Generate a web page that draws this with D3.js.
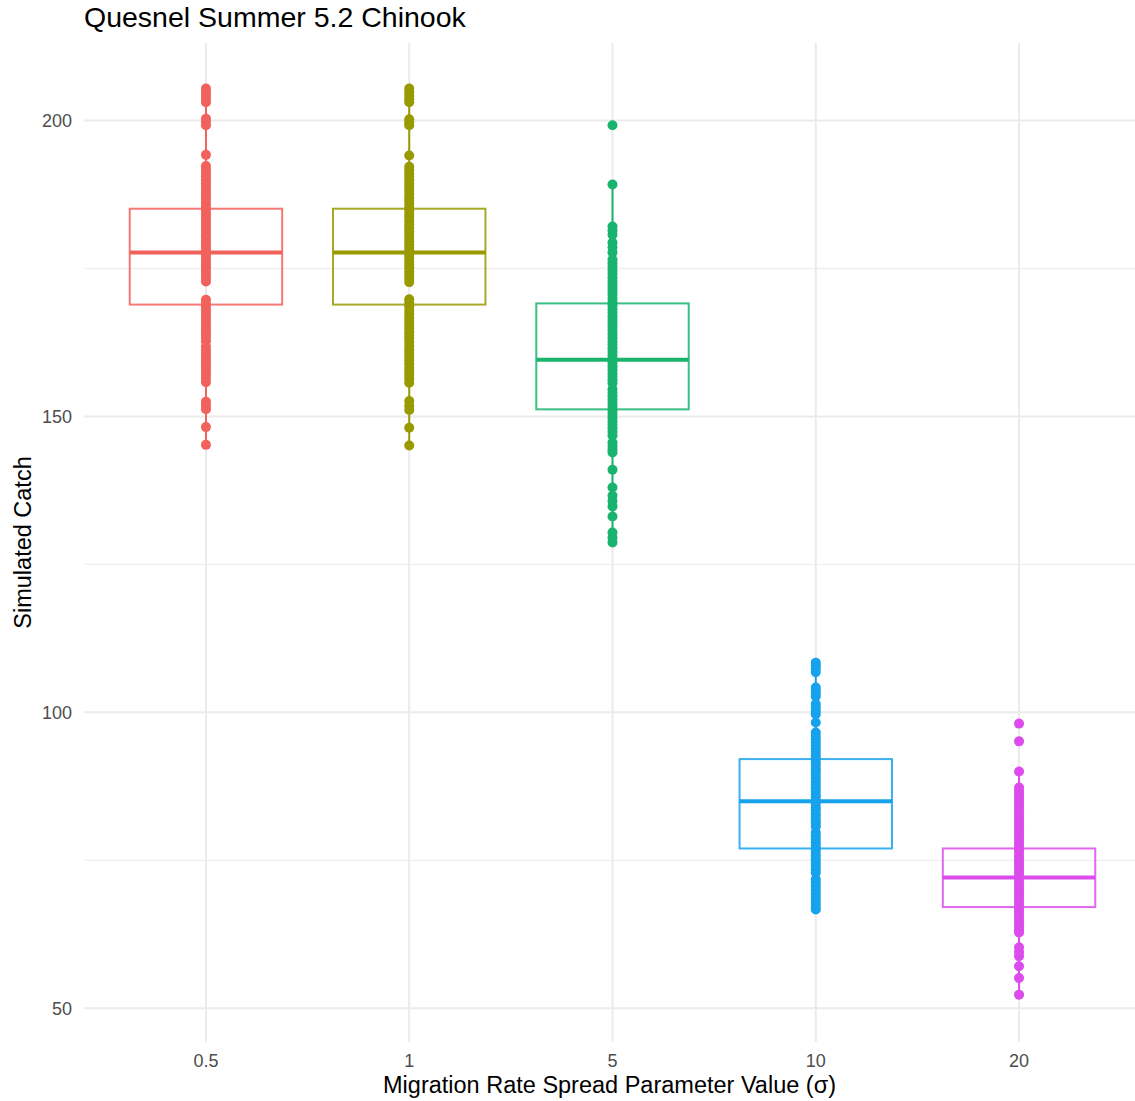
<!DOCTYPE html>
<html lang="en">
  <head>
    <meta charset="UTF-8" />
    <title>Quesnel Summer 5.2 Chinook</title>
    <style>
      body { margin: 0; background: #fff; }
      text { font-family: 'Liberation Sans', Arial, sans-serif; }
    </style>
    <script src="https://d3js.org/d3.v7.min.js"></script>
  </head>
  <body>
    <div class="d3Chart"></div>
    <script>
      // categories (sigma values)
      const categories = ['0.5', '1', '5', '10', '20']
      const colors = ['#F2625C', '#989A00', '#18B46E', '#17A2EE', '#DC4CEC']

      // simulated catch per run
      const catch05 = [205.4, 204.9, 204.3, 203.7, 203.1, 200.3, 199.8, 199.2, 194.2,
        192.3, 191.7, 191.1, 190.6, 190.0, 189.4, 188.8, 188.3, 187.7, 187.1, 186.6, 186.0,
        185.4, 184.8, 184.2, 183.7, 183.1, 182.5, 182.0, 181.4, 180.8, 180.3, 179.7, 179.1,
        178.6, 178.0, 177.4, 176.9, 176.3, 175.7, 175.2, 174.6, 174.0, 173.4, 172.8,
        169.7, 169.1, 168.5, 167.9, 167.4, 166.8, 166.2, 165.6, 165.0, 164.4, 163.9, 163.3, 162.7,
        161.8, 161.2, 160.6, 160.0, 159.4, 158.8, 158.3, 157.7, 157.1, 156.5, 155.8,
        152.5, 151.9, 151.2, 148.2, 145.2]
      const catch1 = [205.4, 204.8, 204.2, 203.6, 203.1, 200.2, 199.7, 199.2, 194.1,
        192.2, 191.6, 191.0, 190.5, 189.9, 189.3, 188.8, 188.2, 187.6, 187.0, 186.5, 185.9,
        185.3, 184.7, 184.1, 183.6, 183.0, 182.4, 181.9, 181.3, 180.7, 180.2, 179.6, 179.0,
        178.5, 177.9, 177.3, 176.8, 176.2, 175.6, 175.1, 174.5, 173.9, 173.3, 172.7,
        169.8, 169.2, 168.6, 168.0, 167.3, 166.7, 166.1, 165.5, 164.9, 164.3, 163.8, 163.2, 162.6,
        161.9, 161.3, 160.7, 160.1, 159.5, 158.9, 158.2, 157.6, 157.0, 156.4, 155.7,
        152.6, 151.8, 151.1, 148.1, 145.1]
      const catch5 = [199.2, 189.2, 182.1, 181.4, 180.7, 179.4, 178.6, 177.7,
        176.5, 175.9, 175.3, 174.7, 174.1, 173.5, 172.9, 172.3, 171.7, 171.1, 170.5, 169.9,
        169.3, 168.7, 168.1, 167.5, 166.9, 166.3, 165.7, 165.1, 164.5, 163.9, 163.3, 162.7,
        162.1, 161.5, 160.9, 160.3, 159.7, 159.1, 158.5, 157.9, 157.3, 156.7, 156.1, 155.6,
        154.6, 154.0, 153.4, 152.8, 152.2, 151.6, 151.0, 150.4, 149.8, 149.2, 148.6, 148.0,
        147.4, 146.8, 145.6, 145.0, 144.4, 143.9,
        141.0, 138.0, 136.6, 135.7, 134.8, 133.1, 130.4, 129.5, 128.7]
      const catch10 = [108.4, 107.9, 107.4, 106.8, 104.2, 103.7, 103.2, 102.7, 101.4, 100.8,
        100.2, 99.7, 98.3,
        96.6, 96.0, 95.5, 94.9, 94.4, 93.8, 93.3, 92.7, 92.2, 91.6, 91.1, 90.5, 90.0, 89.4,
        88.9, 88.3, 87.8, 87.2, 86.7, 86.1, 85.6, 85.0, 84.5, 83.9, 83.4, 82.8, 82.3, 81.7,
        81.2, 80.7,
        79.7, 79.1, 78.6, 78.0, 77.5, 76.9, 76.4, 75.8, 75.2, 74.6, 74.1, 73.5, 72.9,
        71.8, 71.2, 70.6, 70.0, 69.4, 68.8, 68.2, 67.6, 67.1, 66.7]
      const catch20 = [98.1, 95.1, 90.0,
        87.3, 86.7, 86.2, 85.6, 85.1, 84.5, 84.0, 83.4, 82.9, 82.3, 81.8, 81.2, 80.7, 80.1,
        79.6, 79.0, 78.5, 77.9, 77.4, 76.8, 76.3, 75.7, 75.2, 74.6, 74.1, 73.5, 73.0, 72.4,
        71.9, 71.3, 70.8, 70.2, 69.7, 69.1, 68.6, 68.0, 67.5, 66.9, 66.4, 65.8, 65.3, 64.7,
        64.2, 63.6, 63.1, 62.8,
        60.3, 59.5, 58.8, 57.1, 55.1, 52.3]

      // box statistics
      const q1s = [168.9, 168.9, 151.2, 77.0, 67.1]
      const medians = [177.7, 177.7, 159.6, 85.0, 72.1]
      const q3s = [185.1, 185.1, 169.1, 92.1, 77.0]

      const yTicks = [50, 100, 150, 200]
      const yMinorTicks = [75, 125, 175]

      const groups = [catch05, catch1, catch5, catch10, catch20]

      // 画布
      const width = 1135
      const height = 1101
      const panel = { left: 84, right: 1141, top: 43, bottom: 1042 }

      const svg = d3
        .select('.d3Chart')
        .append('svg')
        .attr('width', width)
        .attr('height', height)

      const x = d3.scalePoint().domain(categories).range([panel.left, panel.right]).padding(0.6)
      const y = d3.scaleLinear().domain([44.3, 213.1]).range([panel.bottom, panel.top])
      const boxWidth = x.step() * 0.75

      // grid
      const grid = svg.append('g')
      grid
        .selectAll('.minor')
        .data(yMinorTicks)
        .join('line')
        .attr('x1', panel.left)
        .attr('x2', width)
        .attr('y1', (d) => y(d))
        .attr('y2', (d) => y(d))
        .attr('stroke', '#EFEFEF')
        .attr('stroke-width', 1.3)
      grid
        .selectAll('.major')
        .data(yTicks)
        .join('line')
        .attr('x1', panel.left)
        .attr('x2', width)
        .attr('y1', (d) => y(d))
        .attr('y2', (d) => y(d))
        .attr('stroke', '#EBEBEB')
        .attr('stroke-width', 2)
      grid
        .selectAll('.vmajor')
        .data(categories)
        .join('line')
        .attr('x1', (d) => x(d))
        .attr('x2', (d) => x(d))
        .attr('y1', panel.top)
        .attr('y2', panel.bottom)
        .attr('stroke', '#EBEBEB')
        .attr('stroke-width', 2)

      // box stats
      const boxes = categories.map((c, i) => {
        const vals = groups[i]
        const iqr = q3s[i] - q1s[i]
        const inside = vals.filter((v) => v >= q1s[i] - 1.5 * iqr && v <= q3s[i] + 1.5 * iqr)
        return {
          cat: c,
          color: colors[i],
          q1: q1s[i],
          med: medians[i],
          q3: q3s[i],
          lo: d3.min(inside),
          hi: d3.max(inside)
        }
      })

      const box = svg.append('g').selectAll('g').data(boxes).join('g')
      box
        .append('line')
        .attr('x1', (d) => x(d.cat))
        .attr('x2', (d) => x(d.cat))
        .attr('y1', (d) => y(d.q3))
        .attr('y2', (d) => y(d.hi))
        .attr('stroke', (d) => d.color)
        .attr('stroke-width', 2)
      box
        .append('line')
        .attr('x1', (d) => x(d.cat))
        .attr('x2', (d) => x(d.cat))
        .attr('y1', (d) => y(d.q1))
        .attr('y2', (d) => y(d.lo))
        .attr('stroke', (d) => d.color)
        .attr('stroke-width', 2)
      box
        .append('rect')
        .attr('x', (d) => x(d.cat) - boxWidth / 2)
        .attr('width', boxWidth)
        .attr('y', (d) => y(d.q3))
        .attr('height', (d) => y(d.q1) - y(d.q3))
        .attr('fill', 'none')
        .attr('stroke', (d) => d.color)
        .attr('stroke-opacity', 0.85)
        .attr('stroke-width', 2)
      box
        .append('line')
        .attr('x1', (d) => x(d.cat) - boxWidth / 2)
        .attr('x2', (d) => x(d.cat) + boxWidth / 2)
        .attr('y1', (d) => y(d.med))
        .attr('y2', (d) => y(d.med))
        .attr('stroke', (d) => d.color)
        .attr('stroke-width', 4)

      // points
      const points = groups.flatMap((vals, i) => vals.map((v) => ({ cat: categories[i], v, color: colors[i] })))
      svg
        .append('g')
        .selectAll('circle')
        .data(points)
        .join('circle')
        .attr('cx', (d) => x(d.cat))
        .attr('cy', (d) => y(d.v))
        .attr('r', 5)
        .attr('fill', (d) => d.color)

      // axis labels
      svg
        .append('g')
        .selectAll('text')
        .data(yTicks)
        .join('text')
        .attr('x', 72)
        .attr('y', (d) => y(d))
        .attr('dy', '0.35em')
        .attr('text-anchor', 'end')
        .attr('fill', '#4D4D4D')
        .style('font-size', '18px')
        .text((d) => d)

      svg
        .append('g')
        .selectAll('text')
        .data(categories)
        .join('text')
        .attr('x', (d) => x(d))
        .attr('y', 1067)
        .attr('text-anchor', 'middle')
        .attr('fill', '#4D4D4D')
        .style('font-size', '18px')
        .text((d) => d)

      svg
        .append('text')
        .attr('x', (panel.left + width) / 2)
        .attr('y', 1093)
        .attr('text-anchor', 'middle')
        .attr('fill', '#000')
        .style('font-size', '23.5px')
        .text('Migration Rate Spread Parameter Value (σ)')

      svg
        .append('text')
        .attr('transform', `translate(31, ${(panel.top + panel.bottom) / 2}) rotate(-90)`)
        .attr('text-anchor', 'middle')
        .attr('fill', '#000')
        .style('font-size', '23.5px')
        .text('Simulated Catch')

      svg
        .append('text')
        .attr('x', 84)
        .attr('y', 27)
        .attr('fill', '#000')
        .style('font-size', '28.5px')
        .text('Quesnel Summer 5.2 Chinook')
    </script>
  </body>
</html>
